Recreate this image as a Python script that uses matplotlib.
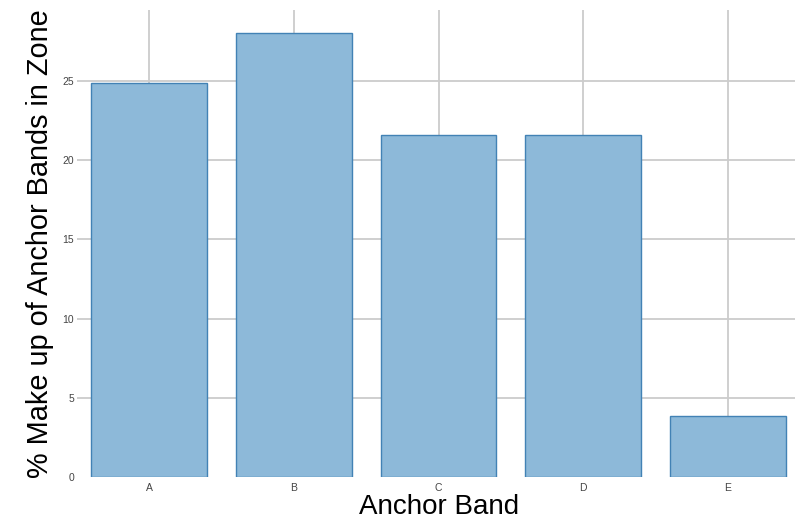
import matplotlib
matplotlib.use("Agg")
import matplotlib.pyplot as plt

bands = ['A', 'B', 'C', 'D', 'E']
pct_makeup = [24.9, 28.0, 21.6, 21.6, 3.85]
y_ticks = [0, 5, 10, 15, 20, 25]


def main():
    plt.rcParams['font.family'] = ['Liberation Sans', 'DejaVu Sans']
    fig = plt.figure(figsize=(7.95, 5.17), dpi=100)
    ax = fig.add_axes([77 / 795, 40 / 517, 1 - 77 / 795, 467 / 517])

    x = list(range(len(bands)))
    ax.bar(x, pct_makeup, width=0.8, color='#8db9d9', edgecolor='#4282b5',
           linewidth=1.0, zorder=3)

    ax.set_xlim(-0.5, 4.465)
    ax.set_ylim(0, 29.48)
    ax.set_xticks(x)
    ax.set_xticklabels(bands)
    ax.set_yticks(y_ticks)
    ax.grid(True, color='#cccccc', linewidth=1.3, zorder=0)
    ax.get_ygridlines()[0].set_visible(False)
    ax.set_axisbelow(True)
    for s in ax.spines.values():
        s.set_visible(False)
    ax.tick_params(axis='both', length=0, labelsize=7.5, labelcolor='#444444')
    ax.tick_params(axis='y', pad=2)
    ax.tick_params(axis='x', pad=4)

    # x label centred on band C, baseline near the bottom edge
    ax.set_xlabel('Anchor Band', fontsize=20, va='baseline')
    ax.xaxis.set_label_coords((439 - 77) / (795 - 77), -37 / 467)
    ax.set_ylabel('% Make up of Anchor Bands in Zone', fontsize=20.8, labelpad=6)

    fig.savefig('out.png', dpi=100)


if __name__ == "__main__":
    main()
